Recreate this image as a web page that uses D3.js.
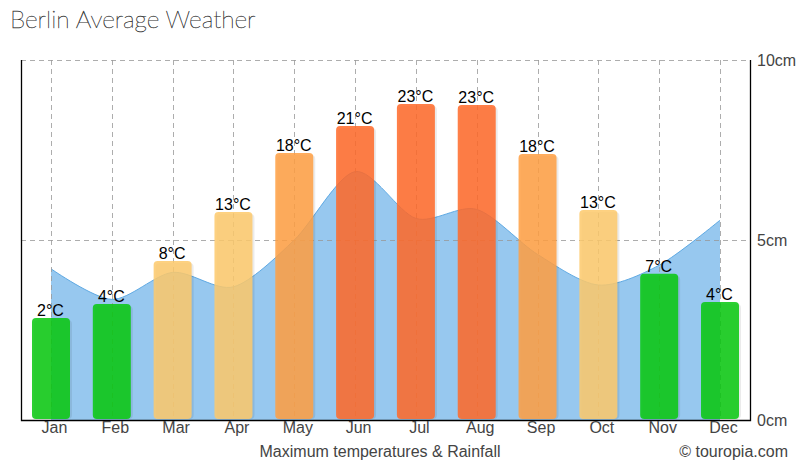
<!DOCTYPE html>
<html><head><meta charset="utf-8">
<script src="https://cdn.jsdelivr.net/npm/d3@7/dist/d3.min.js"></script>
<style>
html,body{margin:0;padding:0;background:#fff}
svg{display:block}
text{font-family:"Liberation Sans",Arial,sans-serif}
</style></head><body>
<svg id="c" width="810" height="470"></svg>
<script>
const months=["Jan","Feb","Mar","Apr","May","Jun","Jul","Aug","Sep","Oct","Nov","Dec"];
const tempLabels=[2,4,8,13,18,21,23,23,18,13,7,4];
const barLevel=[2.83,3.22,4.42,5.78,7.42,8.17,8.78,8.75,7.39,5.83,4.06,3.28];
const rainfallCm=[4.2,3.35,4.1,3.7,5.0,6.9,5.6,5.85,4.6,3.75,4.3,5.55];
const yTicks=[0,5,10];
const title="Berlin Average Weather";
const caption="Maximum temperatures & Rainfall";
const credit="© touropia.com";

const L=21,R=750,T=60,B=420,BW=38;
const svg=d3.select("#c");
const x=d3.scalePoint().domain(months).range([51,720]);
const y=d3.scaleLinear().domain([0,10]).range([B,T]);
const tempColor=t=>t<=7?"#08c80f":t<=13?"#fdca6c":t<=18?"#ff9f43":"#ff6a2a";
const curve=d3.curveCardinal.tension(0.15);

svg.append("text").attr("x",10).attr("y",28).attr("font-size",24.5).attr("fill","#333")
  .attr("stroke","#333").attr("stroke-width",0.35)
  .style("font-family","Lato").attr("font-weight",100).text(title);

// rainfall area
const area=d3.area().x(d=>x(d.m)).y0(B).y1(d=>y(d.v)).curve(curve);
const line=d3.line().x(d=>x(d.m)).y(d=>y(d.v)).curve(curve);
const rain=months.map((m,i)=>({m,v:rainfallCm[i]}));
svg.append("path").attr("d",area(rain)).attr("fill","#97c8ef");
svg.append("path").attr("d",line(rain)).attr("fill","none").attr("stroke","#5ea9e3").attr("stroke-width",1);

// grid
const grid=svg.append("g").attr("stroke","#999").attr("stroke-opacity",.8).attr("stroke-dasharray","5,4").attr("fill","none");
grid.selectAll("line.v").data(months).join("line").attr("class","v")
  .attr("x1",d=>Math.round(x(d))+.5).attr("x2",d=>Math.round(x(d))+.5).attr("y1",T).attr("y2",B);
grid.selectAll("line.h").data(yTicks.slice(1)).join("line").attr("class","h")
  .attr("x1",L).attr("x2",R).attr("y1",d=>y(d)+.5).attr("y2",d=>y(d)+.5);

// bars
const bars=svg.append("g");
bars.selectAll("rect.s").data(months).join("rect").attr("class","s")
  .attr("x",d=>x(d)-BW/2+2).attr("width",BW).attr("y",(d,i)=>y(barLevel[i])+2).attr("height",(d,i)=>B-y(barLevel[i])-3)
  .attr("rx",4).attr("fill","#000").attr("fill-opacity",.08);
bars.selectAll("rect.b").data(months).join("rect").attr("class","b")
  .attr("x",d=>x(d)-BW/2).attr("width",BW).attr("y",(d,i)=>y(barLevel[i])).attr("height",(d,i)=>B-y(barLevel[i])-1)
  .attr("rx",4).attr("fill",(d,i)=>tempColor(tempLabels[i])).attr("fill-opacity",.86);

svg.append("g").selectAll("text").data(months).join("text")
  .attr("x",d=>x(d)-.5).attr("y",(d,i)=>y(barLevel[i])-2).attr("text-anchor","middle")
  .attr("font-size",16).attr("fill","#000").text((d,i)=>tempLabels[i]+"°C");

// frame
svg.append("path").attr("d",`M${L+.5},${T}V${B+.5}H${R+.5}V${T}`).attr("fill","none").attr("stroke","#000").attr("stroke-width",1.3);

// axes
const xAxis=svg.append("g").attr("transform",`translate(3,${B})`).call(d3.axisBottom(x).tickSize(0).tickPadding(0));
xAxis.select(".domain").remove();
xAxis.selectAll("text").attr("font-size",16).attr("fill","#444").attr("y",2).style("font-family",'"Liberation Sans"');
const yAxis=svg.append("g").attr("transform",`translate(${R},0)`).call(d3.axisRight(y).tickValues(yTicks).tickSize(0).tickPadding(7).tickFormat(d=>d+"cm"));
yAxis.select(".domain").remove();
yAxis.selectAll("text").attr("font-size",16).attr("fill","#444").style("font-family",'"Liberation Sans"');

svg.append("text").attr("x",380).attr("y",457).attr("text-anchor","middle").attr("font-size",16).attr("fill","#444").text(caption);
svg.append("text").attr("x",788).attr("y",457).attr("text-anchor","end").attr("font-size",16).attr("fill","#444").text(credit);
</script></body></html>
